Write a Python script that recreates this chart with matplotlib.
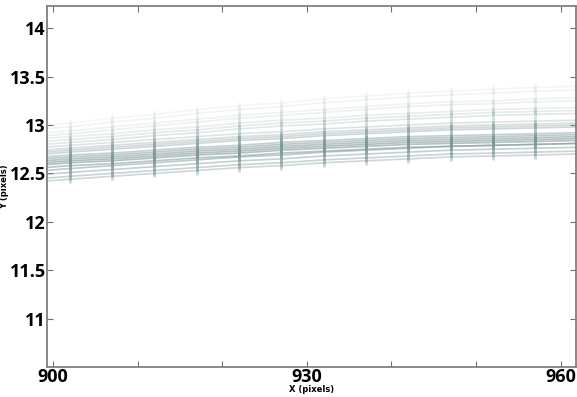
import matplotlib
matplotlib.use("Agg")
import matplotlib.pyplot as plt

x_pos = [899, 902, 907, 912, 917, 922, 927, 932, 937, 942, 947, 952, 957, 962]

series = [
    [13.00,13.02,13.07,13.11,13.16,13.20,13.23,13.27,13.30,13.33,13.35,13.37,13.39,13.40],
    [12.96,12.98,13.03,13.07,13.12,13.16,13.19,13.23,13.26,13.29,13.31,13.33,13.35,13.36],
    [12.92,12.94,12.98,13.02,13.06,13.10,13.13,13.16,13.19,13.22,13.24,13.25,13.27,13.28],
    [12.89,12.91,12.95,12.99,13.03,13.07,13.10,13.13,13.16,13.19,13.21,13.22,13.24,13.25],
    [12.86,12.88,12.91,12.95,12.98,13.02,13.05,13.07,13.10,13.12,13.14,13.16,13.17,13.18],
    [12.83,12.85,12.88,12.92,12.95,12.99,13.02,13.04,13.07,13.09,13.11,13.13,13.14,13.15],
    [12.80,12.82,12.85,12.89,12.92,12.96,12.99,13.01,13.04,13.06,13.08,13.10,13.11,13.12],
    [12.77,12.79,12.82,12.85,12.88,12.91,12.93,12.96,12.98,13.00,13.02,13.03,13.04,13.05],
    [12.74,12.76,12.79,12.82,12.85,12.88,12.90,12.93,12.95,12.97,12.99,13.00,13.01,13.02],
    [12.72,12.74,12.77,12.80,12.83,12.86,12.88,12.91,12.93,12.95,12.97,12.98,12.99,13.00],
    [12.70,12.72,12.75,12.78,12.81,12.84,12.86,12.89,12.91,12.93,12.95,12.96,12.97,12.98],
    [12.67,12.69,12.71,12.74,12.77,12.79,12.82,12.84,12.86,12.88,12.89,12.90,12.91,12.92],
    [12.65,12.67,12.69,12.72,12.75,12.77,12.80,12.82,12.84,12.86,12.87,12.88,12.89,12.90],
    [12.63,12.65,12.67,12.70,12.73,12.75,12.78,12.80,12.82,12.84,12.85,12.86,12.87,12.88],
    [12.61,12.63,12.65,12.68,12.71,12.73,12.76,12.78,12.80,12.82,12.83,12.84,12.85,12.86],
    [12.59,12.61,12.63,12.66,12.69,12.71,12.74,12.76,12.78,12.80,12.81,12.82,12.83,12.84],
    [12.56,12.58,12.60,12.63,12.66,12.68,12.71,12.73,12.75,12.77,12.78,12.79,12.80,12.81],
    [12.53,12.55,12.58,12.61,12.64,12.67,12.69,12.72,12.74,12.76,12.78,12.79,12.80,12.81],
    [12.49,12.51,12.54,12.57,12.60,12.63,12.65,12.68,12.70,12.72,12.74,12.75,12.76,12.77],
    [12.45,12.47,12.50,12.53,12.56,12.59,12.61,12.64,12.66,12.68,12.70,12.71,12.72,12.73],
    [12.42,12.44,12.47,12.50,12.53,12.56,12.58,12.61,12.63,12.65,12.67,12.68,12.69,12.70],
]
alphas = [0.08, 0.10, 0.12, 0.14, 0.17, 0.20, 0.23, 0.26, 0.30, 0.34, 0.38,
          0.45, 0.50, 0.55, 0.60, 0.60, 0.55, 0.50, 0.45, 0.42, 0.38]

x_ticks = [900, 910, 920, 930, 940, 950, 960]
x_labels = ["900", "", "", "930", "", "", "960"]
y_ticks = [11, 11.5, 12, 12.5, 13, 13.5, 14]
y_labels = ["11", "11.5", "12", "12.5", "13", "13.5", "14"]

fig = plt.figure(figsize=(5.77, 3.97), dpi=100)
ax = fig.add_axes([0.0815, 0.0756, 0.9165, 0.9094])

col = "#7d9696"
for ys, a in zip(series, alphas):
    ax.plot(x_pos, ys, color=col, alpha=a, lw=1.2, marker="|", ms=6, mew=2,
            markevery=slice(1, -1), solid_capstyle="butt")

ax.set_xlim(899.3, 961.8)
ax.set_ylim(10.5, 14.23)
ax.set_xticks(x_ticks)
ax.set_xticklabels(x_labels)
ax.set_yticks(y_ticks)
ax.set_yticklabels(y_labels)

for sp in ax.spines.values():
    sp.set_color("#808080")
    sp.set_linewidth(1.3)

ax.tick_params(direction="in", length=4, width=0.8, color="#707070",
               top=True, right=True, labelsize=13, pad=1)
for lab in ax.get_xticklabels() + ax.get_yticklabels():
    lab.set_fontfamily("Open Sans")
    lab.set_fontweight("bold")

ax.set_xlabel("X (pixels)", fontsize=6, fontweight="bold", labelpad=-1)
ax.set_ylabel("Y (pixels)", fontsize=6, fontweight="bold", labelpad=0)

fig.savefig("out.png", dpi=100)
